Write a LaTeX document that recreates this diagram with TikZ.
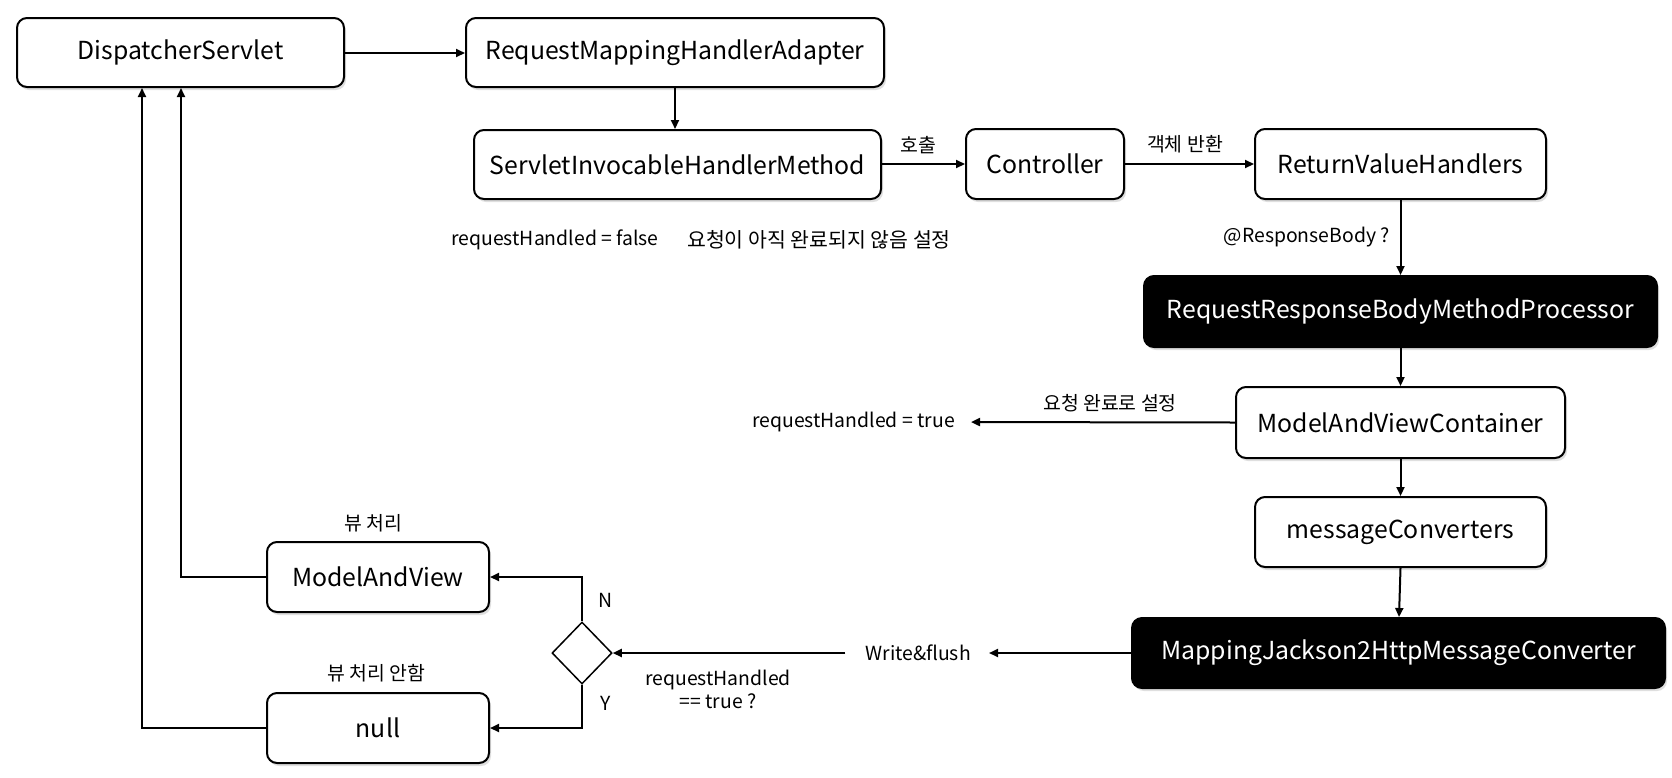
\documentclass[tikz,border=0pt]{standalone}
\usepackage{fontspec}
\setmainfont{Noto Sans CJK KR}
\usetikzlibrary{arrows.meta,shapes.geometric,shadows}
\begin{document}
\begin{tikzpicture}[x=1pt,y=-1pt,
  box/.style={draw=black,line width=2pt,rounded corners=10pt,fill=white,
    font=\fontsize{24.8}{28}\selectfont,inner sep=0pt,
    drop shadow={opacity=0.25,shadow xshift=2pt,shadow yshift=-3pt}},
  dark/.style={box,fill=black,text=white},
  lbl/.style={font=\fontsize{19.4}{23}\selectfont,inner sep=0pt},
  conn/.style={line width=2pt,-{Triangle[length=9pt,width=8pt]}},
  plain/.style={line width=2pt}]
\useasboundingbox (0,0) rectangle (1672,777);
\fill[white] (0,0) rectangle (1672,777);
% boxes
\node[box,minimum width=327pt,minimum height=69pt] (ds) at (180.5,52.5) {DispatcherServlet};
\node[box,minimum width=418pt,minimum height=69pt] (rmha) at (675,52.5) {RequestMappingHandlerAdapter};
\node[box,minimum width=407pt,minimum height=69pt] (sihm) at (677.5,164.5) {ServletInvocableHandlerMethod};
\node[box,minimum width=158pt,minimum height=70pt] (ctrl) at (1045,164) {Controller};
\node[box,minimum width=291pt,minimum height=70pt] (rvh) at (1400.5,164) {ReturnValueHandlers};
\node[dark,minimum width=513pt,minimum height=71pt] (rrb) at (1400.5,311.5) {RequestResponseBodyMethodProcessor};
\node[box,minimum width=329pt,minimum height=71pt] (mavc) at (1400.5,422.5) {ModelAndViewContainer};
\node[box,minimum width=291pt,minimum height=70pt] (mc) at (1400.5,532) {messageConverters};
\node[dark,minimum width=533pt,minimum height=70pt] (mj) at (1398.5,653) {MappingJackson2HttpMessageConverter};
\node[box,minimum width=222pt,minimum height=70pt] (mav) at (378,577) {ModelAndView};
\node[box,minimum width=222pt,minimum height=70pt] (nul) at (378,728) {null};
\node[diamond,draw=black,line width=1.5pt,fill=white,minimum width=60pt,minimum height=62pt,inner sep=0pt] (dia) at (582,653) {};
% text nodes
\node[lbl] (rhf) at (555,240) {requestHandled = false};
\node[lbl,font=\fontsize{20.5}{24}\selectfont] (kor1) at (819,240) {요청이 아직 완료되지 않음 설정};
\node[lbl,anchor=east] (rht) at (955,422) {requestHandled = true};
\node[lbl,anchor=east] (wf) at (971,653) {Write\&flush};
\node[lbl] (ho) at (918,145) {호출};
\node[lbl] (gb) at (1185,144) {객체 반환};
\node[lbl,anchor=east] (rb) at (1390,237) {@ResponseBody ?};
\node[lbl] (wr) at (1110,403) {요청 완료로 설정};
\node[lbl] (vp) at (373,523) {뷰 처리};
\node[lbl] (vnp) at (376,673) {뷰 처리 안함};
\node[lbl] (nn) at (606,600) {N};
\node[lbl] (yy) at (606,703) {Y};
\node[lbl,align=center] (q) at (718,689) {requestHandled\\== true ?};
% connectors
\draw[conn] (ds.east |- 0,53) -- (rmha.west |- 0,53);
\draw[conn] (rmha.south) -- (sihm.north -| rmha.south);
\draw[conn] (sihm.east |- 0,164) -- (ctrl.west |- 0,164);
\draw[conn] (ctrl.east) -- (rvh.west);
\draw[conn] (rvh.south) -- (rrb.north);
\draw[conn] (rrb.south) -- (mavc.north);
\draw[conn] (mavc.south) -- (mc.north);
\draw[conn] (mc.south) -- (mj.north -| 1399,0);
\draw[conn,shorten >=16pt] (mavc.west) -- (rht.east);
\draw[conn,shorten >=18pt] (mj.west) -- (wf.east);
\draw[conn,shorten <=20pt] (wf.west) -- (dia.east);
\draw[conn] (dia.north) |- (mav.east);
\draw[conn] (dia.south) |- (nul.east);
\draw[conn] (mav.west) -| (ds.south -| 181,0);
\draw[conn] (nul.west) -| (ds.south -| 142,0);
\end{tikzpicture}
\end{document}
